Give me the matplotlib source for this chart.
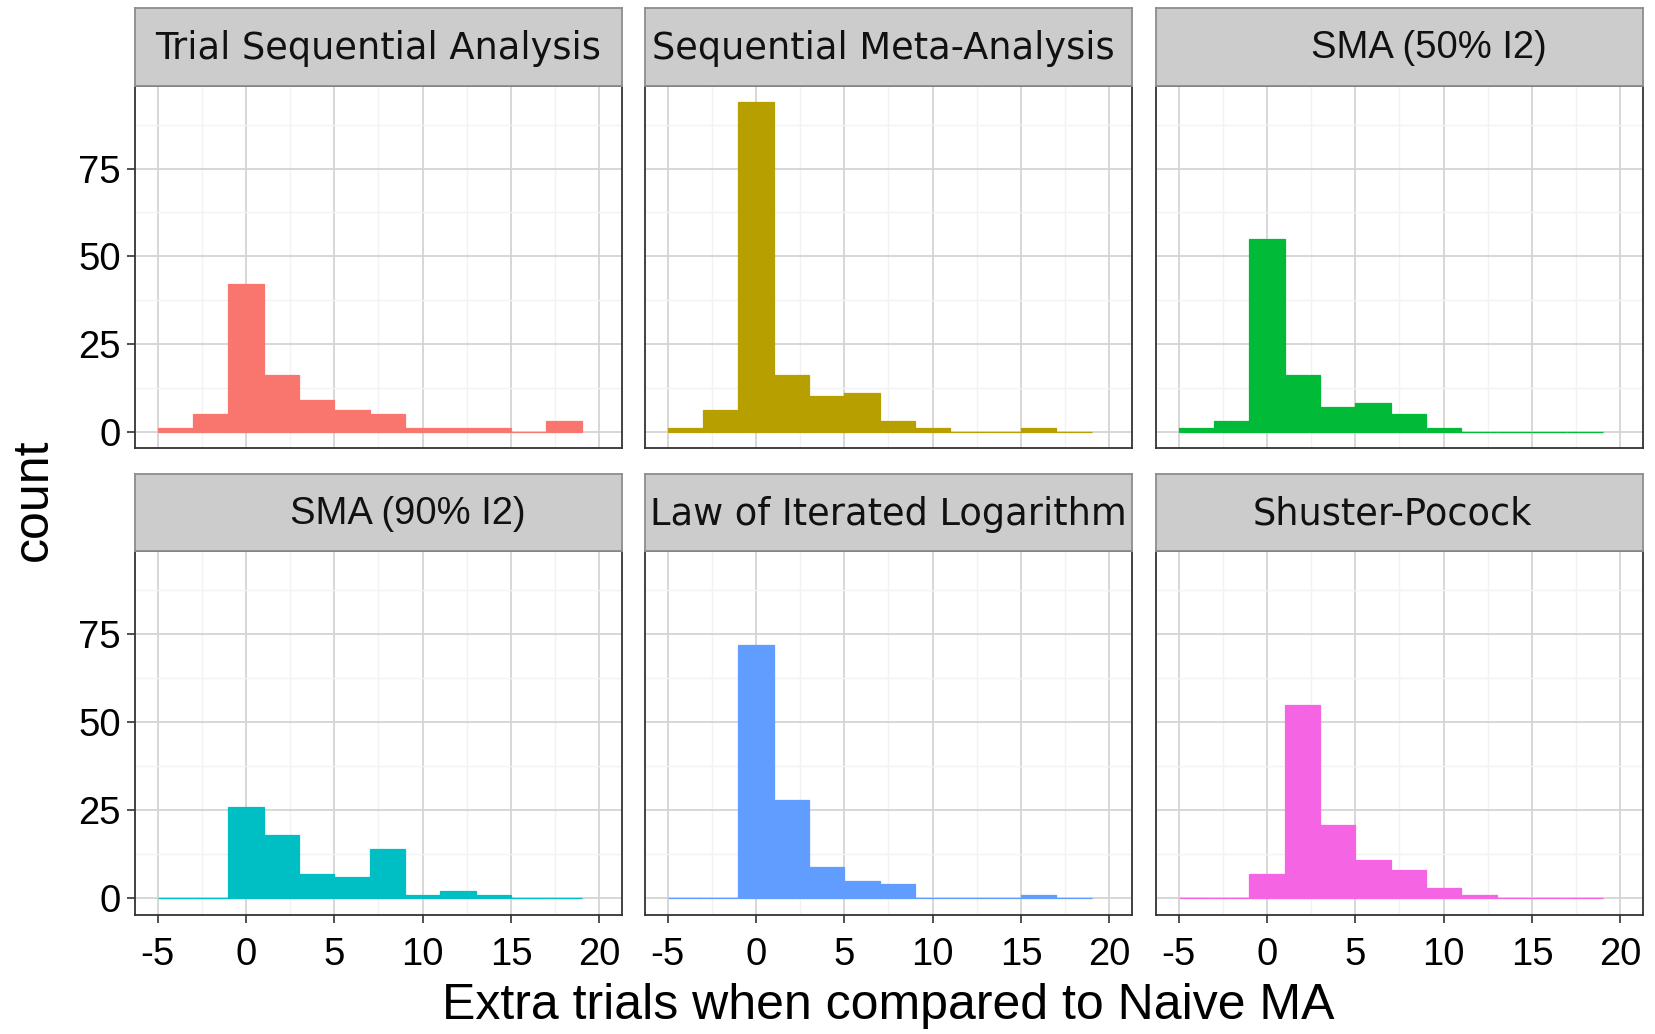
import matplotlib
matplotlib.use('Agg')
import matplotlib.pyplot as plt
import numpy as np

# bins of width 2 from -5 to 19
bin_edges = [-5, -3, -1, 1, 3, 5, 7, 9, 11, 13, 15, 17, 19]

panel_titles = ['Trial Sequential Analysis', 'Sequential Meta-Analysis', 'SMA (50% I2)',
                'SMA (90% I2)', 'Law of Iterated Logarithm', 'Shuster-Pocock']
panel_colors = ['#F8766D', '#B79F00', '#00BA38', '#00BFC4', '#619CFF', '#F564E3']

tsa_counts = [1, 5, 42, 16, 9, 6, 5, 1, 1, 1, 0, 3]
sma_counts = [1, 6, 94, 16, 10, 11, 3, 1, 0, 0, 1, 0]
sma50_counts = [1, 3, 55, 16, 7, 8, 5, 1, 0, 0, 0, 0]
sma90_counts = [0, 0, 26, 18, 7, 6, 14, 1, 2, 1, 0, 0]
lil_counts = [0, 0, 72, 28, 9, 5, 4, 0, 0, 0, 1, 0]
sp_counts = [0, 0, 7, 55, 21, 11, 8, 3, 1, 0, 0, 0]

all_counts = [tsa_counts, sma_counts, sma50_counts, sma90_counts, lil_counts, sp_counts]

x_ticks = [-5, 0, 5, 10, 15, 20]
y_ticks = [0, 25, 50, 75]

# strip text font: the SMA ones look like Arial, the rest Verdana-ish
strip_fonts = ['DejaVu Sans', 'DejaVu Sans', 'Liberation Sans',
               'Liberation Sans', 'DejaVu Sans', 'DejaVu Sans']
strip_sizes = [26.5, 26.5, 27.5, 27.5, 26.5, 26.5]
strip_shift = [0.0, -0.01, 0.06, 0.06, 0.0, -0.015]

plt.rcParams['font.family'] = ['Liberation Sans', 'DejaVu Sans']
plt.rcParams['axes.unicode_minus'] = False  # plain hyphen for -5

W, H = 1656, 1034
fig = plt.figure(figsize=(W / 100, H / 100), dpi=100)

col_left = [135, 645, 1156]
col_w = 487
row_top = [85.5, 551]
row_h = [362.5, 364]
strip_top = [7.5, 474]

edges = np.array(bin_edges)
for i, counts in enumerate(all_counts):
    r, c = divmod(i, 3)
    ax = fig.add_axes([col_left[c] / W, 1 - (row_top[r] + row_h[r]) / H,
                       col_w / W, row_h[r] / H])
    color = panel_colors[i]
    ax.bar(edges[:-1], counts, width=np.diff(edges), align='edge',
           color=color, edgecolor=color, linewidth=0.9, zorder=3)
    ax.set_xlim(-6.28, 21.28)
    ax.set_ylim(-4.7, 98.7)
    ax.set_xticks(x_ticks)
    ax.set_yticks(y_ticks)
    ax.set_xticks(np.arange(-2.5, 20, 5), minor=True)
    ax.set_yticks([12.5, 37.5, 62.5, 87.5], minor=True)
    ax.grid(which='major', color='#d4d4d4', linewidth=1.3, zorder=0)
    ax.grid(which='minor', color='#f2f2f2', linewidth=1.0, zorder=0)
    ax.set_axisbelow(True)
    ax.tick_params(which='minor', length=0)
    ax.tick_params(which='major', length=6, width=1.2, color='#333333',
                   labelsize=27.5, labelcolor='black', pad=4)
    ax.tick_params(axis='x', pad=10)
    for sp in ax.spines.values():
        sp.set_color('#333333')
        sp.set_linewidth(1.3)
    if r == 0:
        ax.tick_params(axis='x', length=0, labelbottom=False)
    if c != 0:
        ax.tick_params(axis='y', length=0, labelleft=False)

    # facet strip
    sax = fig.add_axes([col_left[c] / W, 1 - row_top[r] / H,
                        col_w / W, (row_top[r] - strip_top[r]) / H])
    sax.set_facecolor('#cccccc')
    sax.set_xticks([])
    sax.set_yticks([])
    for sp in sax.spines.values():
        sp.set_color('#8c8c8c')
        sp.set_linewidth(1.3)
    sax.text(0.5 + strip_shift[i], 0.48, panel_titles[i], ha='center', va='center',
             fontsize=strip_sizes[i], family=[strip_fonts[i], 'DejaVu Sans'],
             color='#111111', transform=sax.transAxes)

fig.text(888 / W, 1 - 1006 / H, 'Extra trials when compared to Naive MA',
         ha='center', va='center', fontsize=36)
fig.text(34 / W, 1 - 500 / H, 'count', ha='center', va='center',
         rotation=90, fontsize=36)

fig.savefig('out.png', dpi=100, facecolor='white')
